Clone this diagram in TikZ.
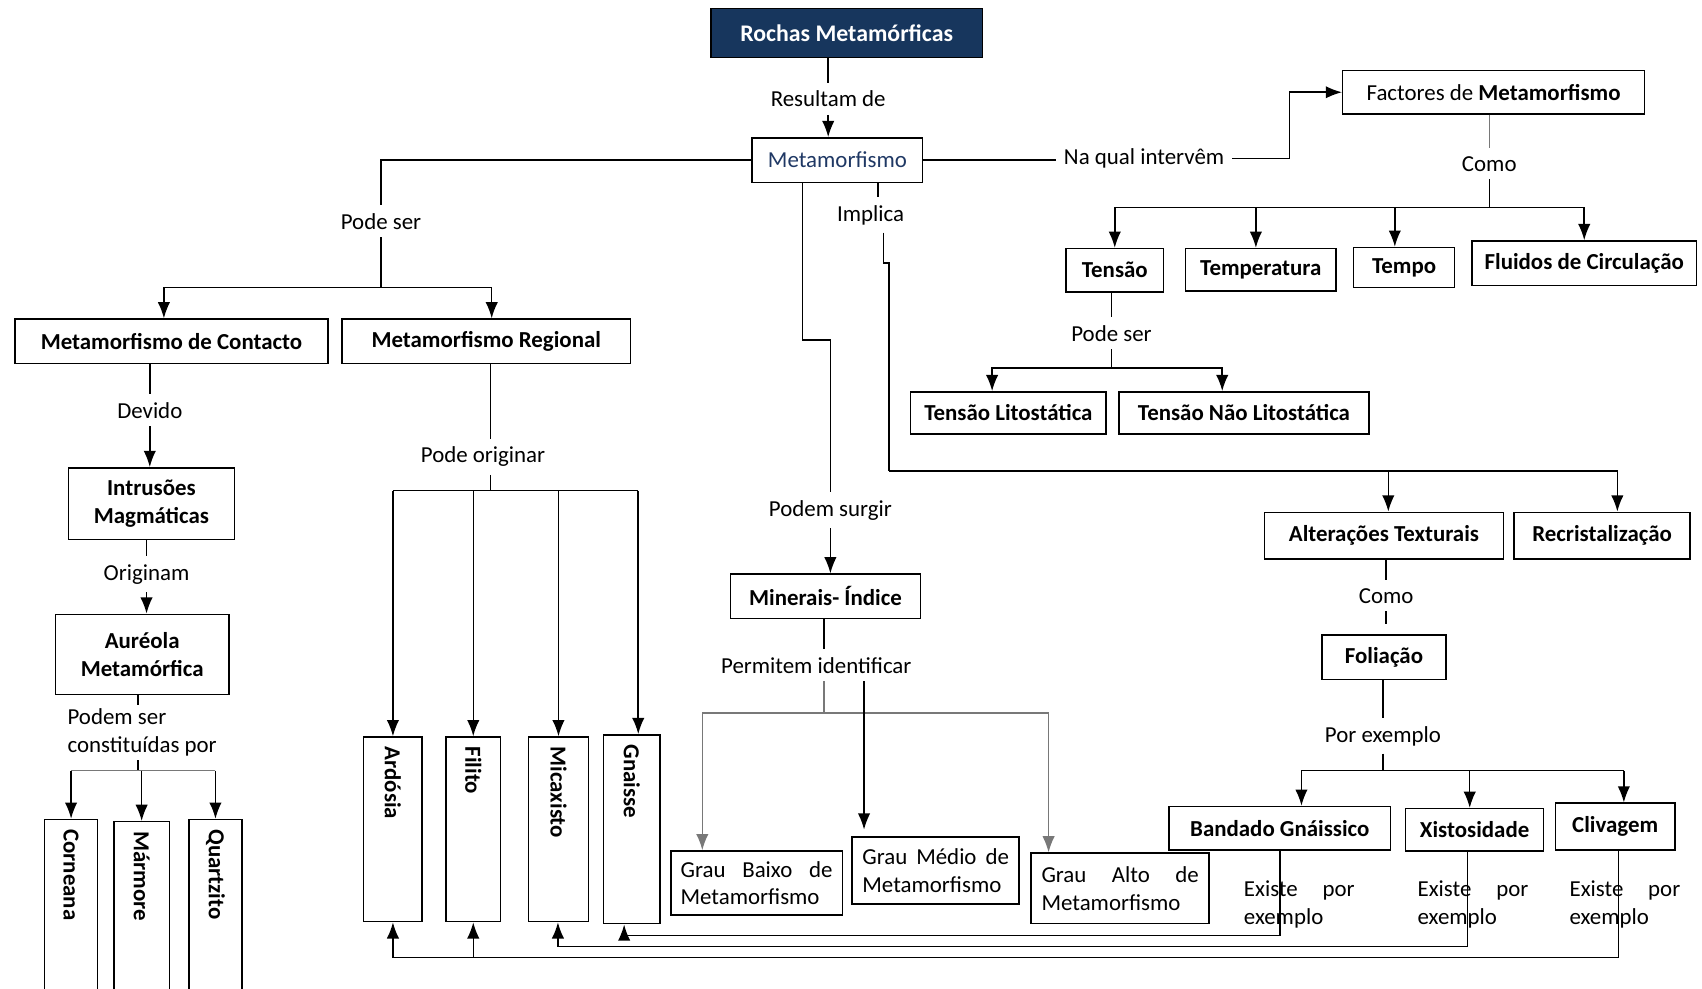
\documentclass[tikz,border=0pt]{standalone}
\usepackage{fontspec}
\setmainfont{Carlito}
\usetikzlibrary{arrows.meta}
\definecolor{azulrochas}{RGB}{23,54,93}
\definecolor{azultexto}{RGB}{31,56,100}
\definecolor{cinzento}{RGB}{120,120,120}

\begin{document}
\begin{tikzpicture}[x=0.02cm, y=-0.02cm]
	\tikzset{caixa/.style={draw=black, line width=0.8pt, align=center, inner sep=2pt, font=\fontsize{12}{14.5}\selectfont\bfseries},
	tam/.style 2 args={minimum width=#1*0.02cm, minimum height=#2*0.02cm},
	rotulo/.style={fill=white, inner sep=4pt, font=\fontsize{12}{14.5}\selectfont},
	vertical/.style={rotate=-90, anchor=west, font=\fontsize{12}{14.5}\selectfont\bfseries},
	linha/.style={line width=0.8pt},
	cinza/.style={line width=0.8pt, draw=cinzento},
	seta/.style={line width=0.8pt, ->, >={Latex[length=8.5pt, width=6.5pt]}}};

	\useasboundingbox (0,0) rectangle (1568,911);

	\node[caixa, tam={250}{45}, fill=azulrochas, text=white, font=\fontsize{12.5}{15}\selectfont\bfseries] (rochas) at (780,30.5) {Rochas Metamórficas};
	\node[caixa, tam={157}{41}, text=azultexto, font=\fontsize{12}{14.5}\selectfont] (metam) at (771.5,147.5) {Metamorfismo};
	\node[caixa, tam={278}{40}, font=\fontsize{12}{14.5}\selectfont] (factores) at (1376,85) {Factores de \textbf{Metamorfismo}};

	\foreach \nome/\x/\y/\w/\h/\txt in {contacto/158/314.5/288/41/Metamorfismo de Contacto, regional/448/314.5/266/41/Metamorfismo Regional,
		intrusoes/139.5/464/153/66/Intrusões\\Magmáticas, aureola/131/603/160/74/Auréola\\Metamórfica,
		tensao/1027/249/90/40/Tensão, temperatura/1161.5/248.5/139/39/Temperatura, tempo/1293.5/246.5/93/37/Tempo,
		fluidos/1459.5/242.5/207/41/Fluidos de Circulação, litost/929/380.5/180/39/Tensão Litostática,
		naolitost/1146/380.5/230/39/Tensão Não Litostática, minerais/760.5/549.5/175/41/Minerais- Índice,
		alteracoes/1275/493.5/220/43/Alterações Texturais, recrist/1476/493.5/162/43/Recristalização,
		foliacao/1275/605.5/114/41/Foliação, bandado/1179/763/204/40/Bandado Gnáissico,
		xisto/1358.5/764.5/127/39/Xistosidade, clivagem/1488/761.5/110/43/Clivagem}{
		\node[caixa, tam={\w}{\h}] (\nome) at (\x,\y) {\txt};
	}

	\foreach \nome/\x/\y/\w/\h/\tw/\txt in {baixo/697/813.5/158/59/2.8cm/Grau\hfill Baixo\hfill de\\Metamorfismo,
		medio/862/802/154/62/2.7cm/Grau\hfill Médio\hfill de\\Metamorfismo,
		alto/1032/818.5/164/65/2.9cm/Grau\hfill Alto\hfill de\\Metamorfismo}{
		\node[caixa, tam={\w}{\h}, text width=\tw, align=left, font=\fontsize{12}{14.5}\selectfont] (\nome) at (\x,\y) {\txt};
	}

	\foreach \nome/\x/\y/\w/\h/\txt in {corneana/65.5/842.5/49/175/Corneana, marmore/130.5/843.5/51/173/Mármore,
		quartzito/198.5/842.5/49/175/Quartzito, ardosia/362/764/54/170/Ardósia, filito/436/764/50/170/Filito,
		micaxisto/514.5/764/55/170/Micaxisto, gnaisse/582/764/52/174/Gnaisse}{
		\node[caixa, tam={\w}{\h}] (\nome) at (\x,\y) {};
		\node[vertical] (t-\nome) at ([yshift=-2pt]\nome.north) {\txt};
	}

	\foreach \nome/\x/\y/\txt in {resultam/763/91/Resultam de, podeser/351/204/Pode ser, napq/1054/146/Na qual intervêm,
		como/1372/151/Como, podeserT/1024/307/Pode ser, implica/802/198/Implica, devido/138/378/Devido,
		originam/135/529/Originam, podeoriginar/445/421/Pode originar, podemsurgir/765/470/Podem surgir,
		permitem/752/613/Permitem identificar, comoF/1277/549/Como, porexemplo/1274/678/Por exemplo}{
		\node[rotulo] (\nome) at (\x,\y) {\txt};
	}
	\node[rotulo, align=left, inner sep=2pt] (podemser) at (131,675) {Podem ser\\constituídas por};
	\foreach \nome/\x in {existeB/1197, existeX/1357, existeC/1497}{
		\node[rotulo, fill=none, inner sep=0pt, text width=2.04cm, align=left] (\nome) at (\x,833) {Existe\hfill por\\exemplo};
	}

	\coordinate (jA) at (351,265);
	\coordinate (kA) at (1188,85);
	\coordinate (jB) at (1372,191);
	\coordinate (jC) at (1024,339);
	\coordinate (cA) at (765,313);
	\coordinate (jD) at (759,657);
	\coordinate (iA) at (819,434);
	\coordinate (jE) at (127,710);
	\coordinate (jF) at (452,452);
	\coordinate (jG) at (1274,710);
	\coordinate (bA) at (575,862);
	\coordinate (bB) at (514,872);
	\coordinate (bC) at (362,882);

	\draw[linha] (rochas.south -| resultam) -- (resultam);
	\draw[seta] (resultam) -- (resultam |- metam.north);

	\draw[linha] (metam.west) -| (podeser);
	\draw[linha] (podeser) -- (jA);
	\draw[seta] (jA) -| ([xshift=-0.14cm]contacto.north);
	\draw[seta] (jA) -| ([xshift=0.1cm]regional.north);

	\draw[linha] (metam.east) -- (metam.east -| napq.west);
	\draw[seta] (napq.east) -| (kA) -- (factores.west);
	\draw[cinza, line width=0.5pt] (factores.south -| como) -- (como);
	\draw[linha] (como) -- (jB);
	\draw[linha] (tensao.north |- jB) -- (fluidos.north |- jB);
	\foreach \n/\s in {tensao/0, temperatura/-0.09, tempo/-0.17, fluidos/0}
		\draw[seta] ([xshift=\s cm]\n.north |- jB) -- ([xshift=\s cm]\n.north);

	\draw[linha] (tensao.south -| podeserT) -- (podeserT);
	\draw[linha] (podeserT) -- (jC);
	\draw[seta] (jC) -| ([xshift=-0.3cm]litost.north);
	\draw[seta] (jC) -| ([xshift=-0.4cm]naolitost.north);

	\draw[linha] ([xshift=-0.64cm]metam.south) |- (cA) -- (podemsurgir);
	\draw[seta] (podemsurgir) -- (podemsurgir |- minerais.north);
	\draw[linha] (minerais.south -| jD) -- (jD |- permitem.north);
	\draw[cinza] (jD |- permitem.south) -- (jD);
	\draw[seta, draw=cinzento] (jD) -| ([xshift=-1cm]baixo.north);
	\draw[seta, draw=cinzento] (jD) -| ([xshift=-1.32cm]alto.north);
	\draw[seta, shorten >=0.12cm] ([xshift=-1.32cm]medio.north |- permitem.south) -- ([xshift=-1.32cm]medio.north);

	\draw[linha] ([xshift=0.75cm]metam.south) -- ([xshift=0.75cm]metam.south |- implica.north);
	\draw[linha] ([xshift=0.24cm]implica.south) -- ++(0,28) -| (iA);
	\draw[seta] (iA) -| ([xshift=0.28cm]recrist.north);
	\draw[seta] ([xshift=0.08cm]alteracoes.north |- iA) -- ([xshift=0.08cm]alteracoes.north);

	\draw[linha] (contacto.south -| devido) -- (devido);
	\draw[seta] (devido) -- (devido |- intrusoes.north);
	\draw[linha] (intrusoes.south -| originam) -- (originam);
	\draw[seta] (originam) -- (originam |- aureola.north);
	\draw[linha] (aureola.south -| jE) -- (jE |- podemser.north);
	\draw[linha] (jE |- podemser.south) -- (jE);
	\draw[cinza] (corneana.north |- jE) -- (quartzito.north |- jE);
	\foreach \n in {corneana, marmore, quartzito}
		\draw[seta] (\n.north |- jE) -- (\n.north);

	\draw[linha] (regional.south -| jF) -- (jF |- podeoriginar.north);
	\draw[linha] (jF |- podeoriginar.south) -- (jF);
	\draw[linha] (ardosia.north |- jF) -- ([xshift=0.12cm]gnaisse.north |- jF);
	\foreach \n/\s in {ardosia/0, filito/0, micaxisto/0, gnaisse/0.12}
		\draw[seta] ([xshift=\s cm]\n.north |- jF) -- ([xshift=\s cm]\n.north);

	\draw[linha] (alteracoes.south -| comoF) -- (comoF);
	\draw[linha, shorten >=0.18cm] (comoF) -- (comoF |- foliacao.north);
	\draw[linha] (foliacao.south -| porexemplo) -- (porexemplo);
	\draw[linha] (porexemplo) -- (jG);
	\draw[linha] ([xshift=0.4cm]bandado.north |- jG) -- ([xshift=0.16cm]clivagem.north |- jG);
	\foreach \n/\s in {bandado/0.4, xisto/-0.09, clivagem/0.16}
		\draw[seta] ([xshift=\s cm]\n.north |- jG) -- ([xshift=\s cm]\n.north);

	\draw[seta] (bandado.south) |- (bA) -- (bA |- gnaisse.south);
	\draw[seta] ([xshift=-0.13cm]xisto.south) |- (bB) -- (bB |- micaxisto.south);
	\draw[seta] ([xshift=0.06cm]clivagem.south) |- (bC) -- (bC |- ardosia.south);
	\draw[seta] (filito.south |- bC) -- (filito.south);

\end{tikzpicture}
\end{document}
